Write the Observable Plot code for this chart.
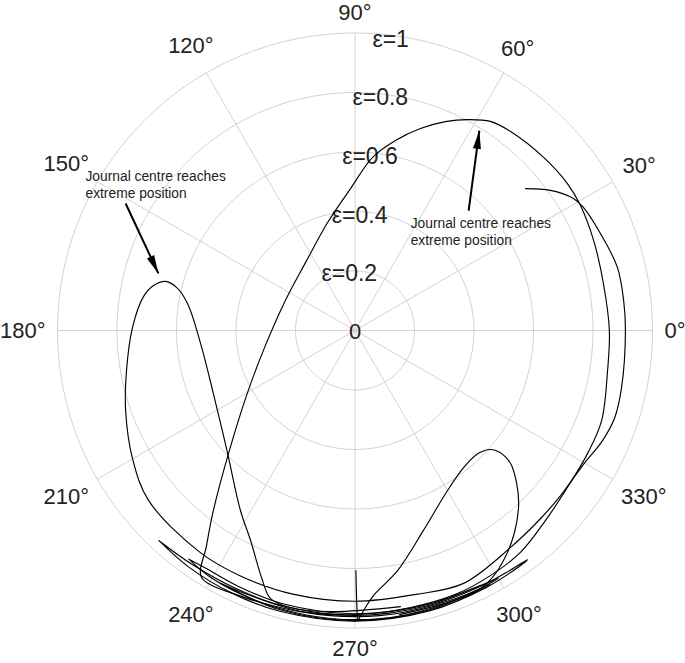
<!DOCTYPE html>
<html>
<head>
<meta charset="utf-8">
<script src="https://cdn.jsdelivr.net/npm/d3@7"></script>
<script src="https://cdn.jsdelivr.net/npm/@observablehq/plot@0.6"></script>
<style>
  html, body { margin: 0; padding: 0; background: #fff; }
</style>
</head>
<body>
<div id="chart"></div>
<script>
// ---------- data ----------
const angleTicks = [0, 30, 60, 90, 120, 150, 180, 210, 240, 270, 300, 330];
const angleTickLabels = ["0°", "30°", "60°", "90°", "120°", "150°", "180°", "210°", "240°", "270°", "300°", "330°"];
const eccTicks = [0.2, 0.4, 0.6, 0.8, 1];
const eccTickLabels = ["ε=0.2", "ε=0.4", "ε=0.6", "ε=0.8", "ε=1"];
const centreLabel = "0";

// journal centre locus, eccentricity components [ex, ey]
const orbitA = [
  [-0.418,-0.881],[-0.516,-0.830],[-0.499,-0.723],[-0.476,-0.605],[-0.425,-0.413],
  [-0.361,-0.208],[-0.301,-0.050],[-0.234,0.101],[-0.166,0.229],[-0.092,0.363],
  [-0.015,0.477],[0.059,0.582],[0.136,0.639],[0.220,0.679],[0.304,0.702],
  [0.378,0.709],[0.455,0.703],[0.523,0.669],[0.634,0.582],[0.714,0.494],
  [0.758,0.420],[0.802,0.303],[0.835,0.158],[0.855,0.000],[0.849,-0.134],
  [0.829,-0.303],[0.782,-0.413],[0.718,-0.521],[0.640,-0.639],[0.556,-0.746],
  [0.455,-0.824],[0.338,-0.887],[0.187,-0.931],[0.002,-0.955],[-0.183,-0.945],
  [-0.318,-0.914],[-0.418,-0.881]
];
const orbitB = [
  [0.153,-0.928],[-0.082,-0.945],[-0.217,-0.931],[-0.284,-0.901],[-0.311,-0.840],
  [-0.351,-0.706],[-0.385,-0.605],[-0.429,-0.410],[-0.476,-0.212],[-0.519,-0.044],
  [-0.563,0.091],[-0.600,0.145],[-0.637,0.165],[-0.677,0.151],[-0.711,0.114],
  [-0.748,0.010],[-0.768,-0.134],[-0.771,-0.269],[-0.748,-0.430],[-0.694,-0.571],
  [-0.522,-0.745],[-0.385,-0.825],[-0.205,-0.887],[0.000,-0.910],[0.205,-0.887],
  [0.365,-0.850],[0.523,-0.729],[0.624,-0.632],[0.691,-0.555],[0.765,-0.454],
  [0.832,-0.370],[0.872,-0.296],[0.896,-0.192],[0.909,0.000],[0.903,0.101],
  [0.882,0.212],[0.825,0.326],[0.765,0.417],[0.734,0.444],[0.657,0.471],
  [0.573,0.477]
];
const orbitC = [
  [0.012,-0.971],[0.029,-0.941],[0.062,-0.891],[0.143,-0.807],[0.230,-0.672],
  [0.311,-0.538],[0.365,-0.461],[0.415,-0.413],[0.455,-0.400],[0.492,-0.413],
  [0.523,-0.447],[0.543,-0.511],[0.550,-0.588],[0.536,-0.679],[0.506,-0.760],
  [0.462,-0.830],[0.408,-0.877],[0.298,-0.918],[0.150,-0.955]
];
const orbitD = [[0.003,-0.807],[0.005,-0.891],[0.008,-0.968]];

// near-wall bundle, [angle in degrees, eccentricity]
const bundle1 = [
  [227,0.966],[235,0.972],[245,0.975],[255,0.977],[270,0.977],[285,0.975],
  [297,0.970],[303,0.967],[307,0.964],[303,0.960],[297,0.958],[285,0.957],
  [270,0.958],[255,0.957],[245,0.955],[235,0.958],[227,0.966]
];
const bundle2 = [
  [234,0.950],[240,0.962],[250,0.967],[260,0.970],[270,0.972],[280,0.971],
  [292,0.966],[300,0.962],[296,0.955],[285,0.953],[270,0.952],[255,0.950],
  [245,0.945],[238,0.943],[234,0.950]
];
const bundle3 = [
  [242,0.962],[255,0.972],[270,0.975],[285,0.972],[298,0.966],[290,0.962],
  [275,0.962],[260,0.962],[248,0.958],[242,0.962]
];

// annotations: text anchor (last line baseline) and arrow from/to, eccentricity components
const noteText = "Journal centre reaches\nextreme position";
const notes = [
  {tx: -0.906, ty: 0.447, x1: -0.771, y1: 0.427, x2: -0.661, y2: 0.192},
  {tx: 0.187, ty: 0.289, x1: 0.382, y1: 0.403, x2: 0.418, y2: 0.672}
];

// ---------- build ----------
const rad = d => d * Math.PI / 180;
const fromPolar = ([t, e]) => [e * Math.cos(rad(t)), e * Math.sin(rad(t))];
const segs = [
  ["A", orbitA], ["B", orbitB], ["C", orbitC], ["D", orbitD],
  ["b1", bundle1.map(fromPolar)], ["b2", bundle2.map(fromPolar)], ["b3", bundle3.map(fromPolar)]
];
const locus = segs.flatMap(([k, arr]) => arr.map(([x, y]) => ({k, x, y})));

const rings = eccTicks.flatMap(r => d3.range(0, 361, 2).map(a => ({r, x: r * Math.cos(rad(a)), y: r * Math.sin(rad(a))})));
const spokes = angleTicks.map(a => ({x2: Math.cos(rad(a)), y2: Math.sin(rad(a))}));

const R = 297.5, FS = 22;
const angleLabels = angleTicks.map((a, i) => {
  const s = angleTickLabels[i];
  const halfW = ((s.length - 1) * 0.556 + 0.4) * FS / 2, halfH = 8.5;
  const sup = Math.abs(Math.cos(rad(a))) * halfW + Math.abs(Math.sin(rad(a))) * halfH;
  const rr = (R + 12 + sup) / R;
  return {x: rr * Math.cos(rad(a)), y: rr * Math.sin(rad(a)), s};
});

const arrowHead = {
  draw(ctx, size) {
    const r = Math.sqrt(size / Math.PI);
    const L = r * 2.3, W = r * 1.0;
    ctx.moveTo(0, 0);
    ctx.lineTo(W / 2, L);
    ctx.lineTo(-W / 2, L);
    ctx.closePath();
  }
};

const font = "'Liberation Sans', Arial, Helvetica, sans-serif";
const chart = Plot.plot({
  width: 685,
  height: 663,
  marginLeft: 57,
  marginRight: 33,
  marginTop: 32.5,
  marginBottom: 35.5,
  x: {domain: [-1, 1], axis: null},
  y: {domain: [-1, 1], axis: null},
  style: {fontFamily: font, background: "#fff", color: "#222"},
  marks: [
    Plot.line(rings, {x: "x", y: "y", z: "r", stroke: "#d2d2d2", strokeWidth: 1}),
    Plot.link(spokes, {x1: 0, y1: 0, x2: "x2", y2: "y2", stroke: "#d2d2d2", strokeWidth: 1}),
    Plot.text(angleLabels, {x: "x", y: "y", text: "s", fontSize: FS, fill: "#222", textAnchor: "middle", lineAnchor: "middle"}),
    Plot.text(eccTicks, {x: r => r * Math.cos(rad(80)), y: r => r * Math.sin(rad(80)), text: (d, i) => eccTickLabels[i], fontSize: 23, fill: "#222", dx: -16, dy: 2}),
    Plot.text([centreLabel], {x: 0, y: 0, text: d => d, fontSize: 22, fill: "#222", dy: 1}),
    Plot.line(locus, {x: "x", y: "y", z: "k", curve: "catmull-rom", stroke: "#000", strokeWidth: 1.15}),
    Plot.link(notes, {x1: "x1", y1: "y1", x2: "x2", y2: "y2", stroke: "#000", strokeWidth: 2}),
    Plot.dot(notes, {x: "x2", y: "y2", symbol: arrowHead, r: 8, fill: "#000", stroke: null,
      rotate: d => Math.atan2(d.x2 - d.x1, d.y2 - d.y1) * 180 / Math.PI}),
    Plot.text(notes, {x: "tx", y: "ty", text: () => noteText, fontSize: 13.8, fill: "#222", textAnchor: "start", lineAnchor: "bottom", lineHeight: 1.17})
  ]
});
document.getElementById("chart").appendChild(chart);
</script>
</body>
</html>
